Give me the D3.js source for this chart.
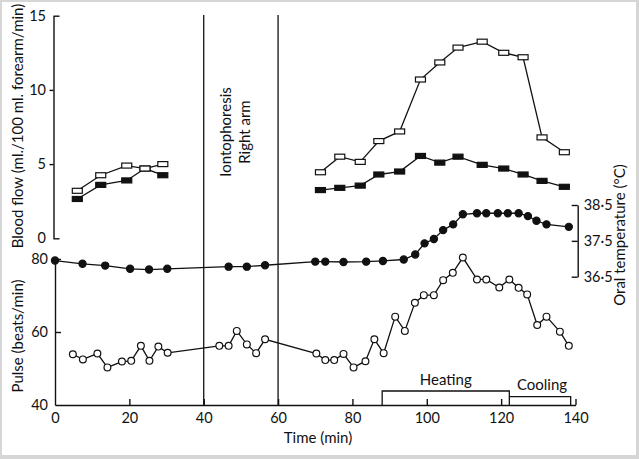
<!DOCTYPE html>
<html>
<head>
<meta charset="utf-8">
<script src="https://cdn.jsdelivr.net/npm/d3@7"></script>
<style>
  html, body { margin: 0; padding: 0; background: #d6d6d6; }
  svg { display: block; }
  text { font-family: Lato, "Open Sans", sans-serif; fill: #111; }
</style>
</head>
<body>
<svg id="chart" width="639" height="459"></svg>
<script>
// ---- data ----
const flowTimesA = [6, 12.3, 19.3, 24.2, 29];
const flowOpenA = [3.2, 4.25, 4.9, 4.7, 5.0];
const flowFilledA = [2.65, 3.6, 3.9, 4.7, 4.25];

const flowTimesB = [71.4, 76.6, 82.1, 87.1, 92.7, 98.3, 103.5, 108.4, 114.9, 120.7, 125.9, 131, 137];
const flowOpenB = [4.45, 5.5, 5.15, 6.55, 7.2, 10.7, 11.85, 12.85, 13.25, 12.5, 12.2, 6.8, 5.8];
const flowFilledB = [3.25, 3.4, 3.55, 4.3, 4.5, 5.55, 5.1, 5.5, 4.95, 4.7, 4.3, 3.87, 3.47];

const tempTimes = [0, 7.4, 13.5, 20.2, 25.3, 30.2, 46.7, 51.6, 56.5, 70, 72.7, 77.6, 83.7, 88.2, 93.8, 96.9, 99.4, 101.9,
  104.4, 107.1, 109.7, 113.5, 116, 119.1, 121.8, 124.7, 127.2, 129.5, 132.2, 138.2];
const temps = [36.95, 36.86, 36.81, 36.72, 36.7, 36.72, 36.78, 36.78, 36.82, 36.92, 36.92, 36.91, 36.92, 36.94, 36.98, 37.12, 37.43, 37.55,
  37.8, 37.96, 38.24, 38.27, 38.27, 38.27, 38.27, 38.27, 38.19, 38.06, 37.96, 37.89];

const pulseTimes = [4.8, 7.5, 11.4, 14.1, 18, 20.5, 23.1, 25.4, 27.8, 30.3, 44.2, 46.7, 48.9, 51.6, 54.1, 56.5,
  70.3, 72.7, 75.1, 77.6, 80.3, 83.5, 85.9, 88.4, 91.5, 94.1, 96.8, 99.2, 101.9, 104.4, 107, 109.7,
  113.5, 116, 119.5, 122.2, 124.7, 127, 129.7, 132.2, 135.8, 138.2];
const pulse = [53.9, 52.5, 54.1, 50.3, 51.9, 52.1, 56.2, 52.1, 56, 54.3, 56.2, 56.2, 60.3, 56.6, 54.2, 58,
  54.1, 52.3, 52.3, 54, 50.3, 52, 58, 54.2, 64.2, 60.3, 68, 70.1, 70.1, 74.2, 76.2, 80.4,
  74.4, 74.4, 72.2, 74.4, 72.1, 70.3, 61.9, 64.2, 60.1, 56.2];

const timeTicks = [0, 20, 40, 60, 80, 100, 120, 140];
const flowTicks = [0, 5, 10, 15];
const pulseTicks = [40, 60, 80];
const tempTicks = [36.5, 37.5, 38.5];
const tempTickLabels = ["36·5", "37·5", "38·5"];
const iontoTimes = [40, 60];
const heatingPeriod = [88, 122.2];
const coolingPeriod = [122.2, 138.7];

// ---- chart ----
const svg = d3.select("#chart");
svg.append("rect").attr("x", 2).attr("y", 2).attr("width", 634).attr("height", 453).attr("fill", "#fff");

const x = d3.scaleLinear().domain([0, 140]).range([55, 575.5]);
const yFlow = d3.scaleLinear().domain([0, 15]).range([238.3, 15.7]);
const yPulse = d3.scaleLinear().domain([40, 80]).range([405, 259]);
const yTemp = d3.scaleLinear().domain([36.5, 38.5]).range([276.7, 205]);

const fs = 14.5;
const ts = 15;
function styleAxis(g) {
  g.selectAll("path.domain").attr("stroke", "#111").attr("stroke-width", 1.4);
  g.selectAll(".tick line").attr("stroke", "#111").attr("stroke-width", 1.4);
  g.selectAll(".tick text").attr("font-size", fs).attr("font-family", "Lato, 'Open Sans', sans-serif").attr("fill", "#111");
}

// x axis
const gx = svg.append("g").attr("transform", "translate(0,405)")
  .call(d3.axisBottom(x).tickValues(timeTicks).tickSizeInner(-6).tickSizeOuter(0).tickPadding(8).tickFormat(d3.format("d")));
styleAxis(gx);
gx.selectAll(".tick").filter(d => d === 0).select("line").remove();

// flow axis
const gf = svg.append("g").attr("transform", "translate(53.5,0)")
  .call(d3.axisLeft(yFlow).tickValues([0, 15]).tickSizeInner(-6).tickSizeOuter(0).tickPadding(7.5));
styleAxis(gf);
const gf2 = svg.append("g").attr("transform", "translate(53.5,0)")
  .call(d3.axisLeft(yFlow).tickValues([5, 10]).tickSizeInner(4).tickSizeOuter(0).tickPadding(3.5));
styleAxis(gf2);
gf2.select("path.domain").remove();

// pulse axis
const gp = svg.append("g").attr("transform", "translate(55,0)")
  .call(d3.axisLeft(yPulse).tickValues(pulseTicks).tickSizeInner(-6).tickSizeOuter(0).tickPadding(7));
styleAxis(gp);
gp.selectAll(".tick").filter(d => d === 40).select("line").remove();

// temperature axis
const gt = svg.append("g").attr("transform", "translate(577.7,0)")
  .call(d3.axisRight(yTemp).tickValues(tempTicks).tickSizeInner(-6).tickSizeOuter(0).tickPadding(6)
    .tickFormat((d, i) => tempTickLabels[i]));
styleAxis(gt);
gt.selectAll(".tick").filter(d => d === 36.5).select("line").attr("x2", -6);

// axis titles
svg.append("text").attr("transform", "translate(23,126) rotate(-90)").attr("text-anchor", "middle")
  .attr("font-size", ts).text("Blood flow (ml./100 ml. forearm/min)");
svg.append("text").attr("transform", "translate(23,336) rotate(-90)").attr("text-anchor", "middle")
  .attr("font-size", ts).text("Pulse (beats/min)");
svg.append("text").attr("transform", "translate(625,235) rotate(-90)").attr("text-anchor", "middle")
  .attr("font-size", ts).text("Oral temperature (°C)");
svg.append("text").attr("x", 318).attr("y", 443).attr("text-anchor", "middle")
  .attr("font-size", ts).text("Time (min)");

// iontophoresis lines and label
svg.selectAll("line.ionto").data(iontoTimes).join("line").attr("class", "ionto")
  .attr("x1", d => x(d)).attr("x2", d => x(d)).attr("y1", 15).attr("y2", 405)
  .attr("stroke", "#111").attr("stroke-width", 1.3);
const ionX = x(d3.mean(iontoTimes));
svg.append("text").attr("transform", `translate(${ionX - 10},132) rotate(-90)`).attr("text-anchor", "middle")
  .attr("font-size", ts).text("Iontophoresis");
svg.append("text").attr("transform", `translate(${ionX + 9},132) rotate(-90)`).attr("text-anchor", "middle")
  .attr("font-size", ts).text("Right arm");

// heating / cooling boxes
svg.append("path")
  .attr("d", `M${x(heatingPeriod[0])},405V391H${x(heatingPeriod[1])}V405`)
  .attr("fill", "none").attr("stroke", "#111").attr("stroke-width", 1.3);
svg.append("path")
  .attr("d", `M${x(coolingPeriod[0])},396.7H${x(coolingPeriod[1])}V406`)
  .attr("fill", "none").attr("stroke", "#111").attr("stroke-width", 1.3);
svg.append("text").attr("x", x(d3.mean(heatingPeriod))).attr("y", 385).attr("text-anchor", "middle")
  .attr("font-size", ts).text("Heating");
svg.append("text").attr("x", x(d3.mean(coolingPeriod)) + 2).attr("y", 390).attr("text-anchor", "middle")
  .attr("font-size", ts).text("Cooling");

// series helpers
const lineGen = (ys) => d3.line().x(d => x(d[0])).y(d => ys(d[1]));
function drawLine(times, vals, ys) {
  const pts = times.map((t, i) => [t, vals[i]]);
  svg.append("path").datum(pts).attr("d", lineGen(ys)).attr("fill", "none")
    .attr("stroke", "#111").attr("stroke-width", 1.3);
  return pts;
}
function drawRects(pts, ys, filled) {
  svg.append("g").selectAll("rect").data(pts).join("rect")
    .attr("x", d => x(d[0]) - 5).attr("y", d => ys(d[1]) - 2.5)
    .attr("width", 10).attr("height", 5)
    .attr("fill", filled ? "#111" : "#fff").attr("stroke", "#111").attr("stroke-width", 1.2);
}
function drawCircles(pts, ys, filled) {
  svg.append("g").selectAll("circle").data(pts).join("circle")
    .attr("cx", d => x(d[0])).attr("cy", d => ys(d[1]))
    .attr("r", filled ? 3.6 : 3.4)
    .attr("fill", filled ? "#111" : "#fff").attr("stroke", "#111").attr("stroke-width", 1.2);
}

// blood flow
drawRects(drawLine(flowTimesA, flowFilledA, yFlow), yFlow, true);
drawRects(drawLine(flowTimesB, flowFilledB, yFlow), yFlow, true);
drawRects(drawLine(flowTimesA, flowOpenA, yFlow), yFlow, false);
drawRects(drawLine(flowTimesB, flowOpenB, yFlow), yFlow, false);

// temperature
drawCircles(drawLine(tempTimes, temps, yTemp), yTemp, true);

// pulse
drawCircles(drawLine(pulseTimes, pulse, yPulse), yPulse, false);
</script>
</body>
</html>
